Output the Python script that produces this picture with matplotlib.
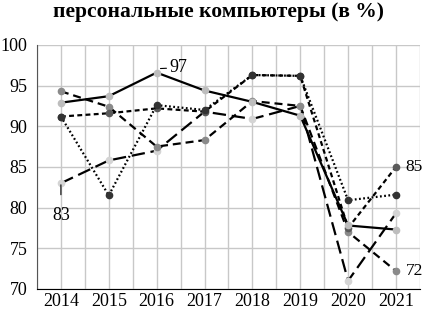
import matplotlib
matplotlib.use('Agg')
import matplotlib.pyplot as plt
from matplotlib.ticker import MultipleLocator

plt.rcParams['font.family'] = ['Liberation Serif', 'DejaVu Serif']

years = [2014, 2015, 2016, 2017, 2018, 2019, 2020, 2021]
# five series
solid = [92.9, 93.7, 96.6, 94.4, 93.0, 91.3, 77.8, 77.3]
dotted = [91.2, 81.5, 92.6, 92.0, 96.3, 96.2, 80.9, 81.6]
short_dash = [91.2, 91.6, 92.2, 91.8, 96.3, 96.2, 77.5, 85.0]
mid_dash = [94.3, 92.4, 87.5, 88.3, 93.1, 92.5, 77.0, 72.2]
long_dash = [83.0, 85.8, 87.0, 91.8, 90.9, 92.5, 71.0, 79.3]

title = 'персональные компьютеры (в %)'

fig = plt.figure(figsize=(4.25, 3.1), dpi=100)
ax = fig.add_axes([0.087, 0.068, 0.901, 0.787])

ms = 4.5
lw = 1.6
ax.plot(years, long_dash, color='black', lw=lw, dashes=(6, 2.6),
        marker='o', ms=ms, mfc='#d4d4d4', mec='#d4d4d4', zorder=3)
ax.plot(years, mid_dash, color='black', lw=lw, dashes=(3.6, 2.2),
        marker='o', ms=ms, mfc='#8a8a8a', mec='#8a8a8a', zorder=3)
ax.plot(years, short_dash, color='black', lw=lw, dashes=(2.2, 1.5),
        marker='o', ms=ms, mfc='#5a5a5a', mec='#5a5a5a', zorder=3)
ax.plot(years, dotted, color='black', lw=lw, dashes=(0.8, 1.1),
        marker='o', ms=ms, mfc='#333333', mec='#333333', zorder=3)
ax.plot(years, solid, color='black', lw=lw,
        marker='o', ms=ms, mfc='#bdbdbd', mec='#bdbdbd', zorder=4)

# data labels
ax.annotate('97', xy=(years[2] + 0.08, solid[2] + 0.5), xytext=(years[2] + 0.45, solid[2] + 0.6),
            fontsize=13, ha='center', va='center',
            arrowprops=dict(arrowstyle='-', color='black', lw=0.8, shrinkA=8, shrinkB=0))
ax.annotate('83', xy=(years[0], long_dash[0] - 0.2), xytext=(years[0], 79.0),
            fontsize=13, ha='center', va='center',
            arrowprops=dict(arrowstyle='-', color='black', lw=0.8, shrinkA=7, shrinkB=0))
ax.text(years[7] + 0.2, short_dash[7], '85', fontsize=12.5, ha='left', va='center', clip_on=False)
ax.text(years[7] + 0.2, mid_dash[7], '72', fontsize=12.5, ha='left', va='center', clip_on=False)

ax.set_xlim(2013.5, 2021.5)
ax.set_ylim(70, 100)
ax.xaxis.set_major_locator(MultipleLocator(1))
ax.xaxis.set_minor_locator(MultipleLocator(0.5))
ax.yaxis.set_major_locator(MultipleLocator(5))
ax.grid(True, which='both', axis='x', color='#c8c8c8', lw=1)
ax.grid(True, which='major', axis='y', color='#c8c8c8', lw=1)
ax.set_axisbelow(True)
ax.tick_params(which='both', length=0, labelsize=13, pad=3)
ax.tick_params(axis='y', pad=7)
ax.spines['top'].set_visible(False)
ax.spines['right'].set_visible(False)
ax.spines['left'].set_color('#555555')
ax.spines['bottom'].set_color('black')

fig.text(0.515, 0.96, title, ha='center', va='center', fontsize=15.5, fontweight='bold')

fig.savefig('out.png', dpi=100)
